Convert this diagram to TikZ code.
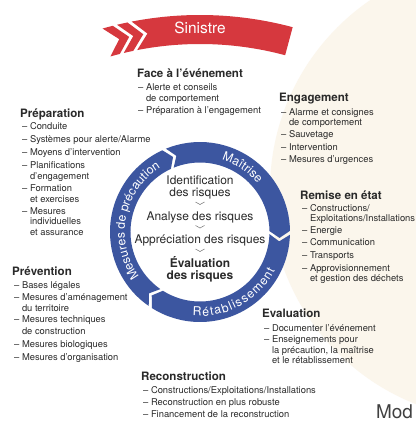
\documentclass[tikz,border=0pt]{standalone}
\usepackage{fontspec}
\setmainfont{TeX Gyre Heros}
\usetikzlibrary{decorations.text}
\definecolor{ringblue}{RGB}{60,86,160}
\definecolor{sinred}{RGB}{214,56,62}
\definecolor{cream}{RGB}{251,246,236}
\definecolor{txt}{RGB}{42,42,42}
\newcommand\ringfont{\fontsize{12.3}{14}\selectfont}
\begin{document}
\begin{tikzpicture}[x=1bp,y=1bp,
  hd/.style={anchor=base west, inner sep=0pt, font=\fontsize{11.6}{13}\selectfont\bfseries, text=txt},
  it/.style={anchor=base west, inner sep=0pt, font=\fontsize{9.4}{11}\selectfont, text=txt},
  ctr/.style={anchor=base, inner sep=0pt, font=\fontsize{12}{14}\selectfont, text=txt},
  ctrb/.style={anchor=base, inner sep=0pt, font=\fontsize{12}{14}\selectfont\bfseries, text=txt},
  seg/.style={fill=ringblue},
  vmark/.style={draw=black!55, line width=0.5bp},
  ringtext/.style={decorate, decoration={text along path, text align=center, text color=white}},
  ringfit/.style={decorate, decoration={text along path, text align=fit to path, text color=white}},
]
\useasboundingbox (0,0) rectangle (416,423);
\fill[white] (0,0) rectangle (416,423);
\begin{scope}
  \clip (0,0) rectangle (416,423);
  \fill[cream] (500,233) circle[radius=230];
\end{scope}

% Sinistre band
\begin{scope}[shift={(200,50)}]
  \fill[sinred] (75:358) arc[start angle=75, end angle=101, radius=358] -- (98.8:343.5)
     -- (101:329) arc[start angle=101, end angle=75, radius=329] -- cycle;
  \fill[sinred] (101.7:358) arc[start angle=101.7, end angle=103.4, radius=358] -- (101.2:343.5)
     -- (103.4:329) arc[start angle=103.4, end angle=101.7, radius=329] -- (99.5:343.5) -- cycle;
  \fill[sinred] (104.1:358) arc[start angle=104.1, end angle=105.8, radius=358] -- (103.6:343.5)
     -- (105.8:329) arc[start angle=105.8, end angle=104.1, radius=329] -- (101.9:343.5) -- cycle;
\end{scope}
\node[inner sep=0pt, font=\fontsize{15.5}{17}\selectfont, text=white] (sin) at (200,395) {Sinistre};

% Ring
\begin{scope}[shift={(200,191)}]
  \foreach \s/\e in {234/111, 111/-3, 357/234}{
    \fill[seg] ({\s+1.25}:90) arc[start angle={\s+1.25}, end angle={\e+3.75}, radius=90]
      -- ({\e-1.25}:79.75) -- ({\e+3.75}:69.5)
      arc[start angle={\e+3.75}, end angle={\s+1.25}, radius=69.5]
      -- ({\s-3.75}:79.75) -- cycle;
  }
  \path[ringtext, decoration={text={|\ringfont|Mesures de précaution}}]
    (240:75.3) arc[start angle=240, end angle=98, radius=75.3];
  \path[ringtext, decoration={text={|\ringfont|Maîtrise}}]
    (96:75.3) arc[start angle=96, end angle=17, radius=75.3];
  \path[ringfit, decoration={text={|\ringfont|Rétablissement}}]
    (265:84.2) arc[start angle=265, end angle=333, radius=84.2];
\end{scope}

% centre
\node[ctr] (c1) at (200,238.7) {Identification};
\node[ctr] (c2) at (200,226.5) {des risques};
\draw[vmark] (195.5,221) -- (200,218.5) -- (204.5,221);
\node[ctr] (c3) at (200,203) {Analyse des risques};
\draw[vmark] (195.5,197.5) -- (200,195) -- (204.5,197.5);
\node[ctr] (c4) at (200,180) {Appréciation des risques};
\draw[vmark] (195.5,174) -- (200,171.5) -- (204.5,174);
\node[ctrb] (c5) at (200,156) {Évaluation};
\node[ctrb] (c6) at (200,144) {des risques};

% Face a l'evenement
\node[hd] (fH) at (137,346) {Face à l'événement};
\node[it] (f1) at (138,332.5) {– Alerte et conseils};
\node[it] (f2) at (138,321.5) {\phantom{– }de comportement};
\node[it] (f3) at (138,309.5) {– Préparation à l'engagement};

% Engagement
\node[hd] (eH) at (279,321.5) {Engagement};
\node[it] (e1) at (281,308) {– Alarme et consignes};
\node[it] (e2) at (281,297.5) {\phantom{– }de comportement};
\node[it] (e3) at (281,285.5) {– Sauvetage};
\node[it] (e4) at (281,273) {– Intervention};
\node[it] (e5) at (281,260.5) {– Mesures d'urgences};

% Preparation
\node[hd] (pH) at (20,306) {Préparation};
\node[it] (p1) at (22,294) {– Conduite};
\node[it] (p2) at (22,281) {– Systèmes pour alerte/Alarme};
\node[it] (p3) at (22,267.5) {– Moyens d'intervention};
\node[it] (p4) at (22,254.5) {– Planifications};
\node[it] (p5) at (22,243.5) {\phantom{– }d'engagement};
\node[it] (p6) at (22,231.5) {– Formation};
\node[it] (p7) at (22,221) {\phantom{– }et exercises};
\node[it] (p8) at (22,209) {– Mesures};
\node[it] (p9) at (22,198.5) {\phantom{– }individuelles};
\node[it] (p10) at (22,187.5) {\phantom{– }et assurance};

% Remise en etat
\node[hd] (rH) at (300,224) {Remise en état};
\node[it] (r1) at (302,212) {– Constructions/};
\node[it] (r2) at (302,202) {\phantom{– }Exploitations/Installations};
\node[it] (r3) at (302,190) {– Energie};
\node[it] (r4) at (302,177.5) {– Communication};
\node[it] (r5) at (302,165) {– Transports};
\node[it] (r6) at (302,152) {– Approvisionnement};
\node[it] (r7) at (302,142) {\phantom{– }et gestion des déchets};

% Prevention
\node[hd] (vH) at (12,147.5) {Prévention};
\node[it] (v1) at (14,134.5) {– Bases légales};
\node[it] (v2) at (14,122.5) {– Mesures d'aménagement};
\node[it] (v3) at (14,112) {\phantom{– }du territoire};
\node[it] (v4) at (14,100.5) {– Mesures techniques};
\node[it] (v5) at (14,89) {\phantom{– }de construction};
\node[it] (v6) at (14,76) {– Mesures biologiques};
\node[it] (v7) at (14,63) {– Mesures d'organisation};

% Evaluation
\node[hd] (aH) at (262,106) {Evaluation};
\node[it] (a1) at (264,92) {– Documenter l'événement};
\node[it] (a2) at (264,80.5) {– Enseignements pour};
\node[it] (a3) at (264,70) {\phantom{– }la précaution, la maîtrise};
\node[it] (a4) at (264,59.5) {\phantom{– }et le rétablissement};

% Reconstruction
\node[hd] (kH) at (141,42.5) {Reconstruction};
\node[it] (k1) at (143,30) {– Constructions/Exploitations/Installations};
\node[it] (k2) at (143,17.5) {– Reconstruction en plus robuste};
\node[it] (k3) at (143,5.5) {– Financement de la reconstruction};

\node[anchor=base west, inner sep=0pt, font=\fontsize{19}{22}\selectfont, text=black!75] (mod) at (376,5) {Mod};
\end{tikzpicture}
\end{document}
